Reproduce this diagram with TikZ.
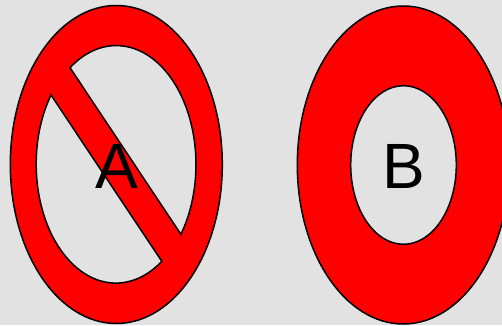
\documentclass[tikz,border=0pt]{standalone}
\usepackage{fontspec}
\setmainfont{Liberation Sans}
\definecolor{paper}{HTML}{E2E2E2}

\begin{document}
\begin{tikzpicture}[
  x=1pt, y=1pt,
  ring/.style={draw=black, fill=red, line width=1.5pt},
  hole/.style={draw=black, fill=paper, line width=1.5pt},
  letter/.style={inner sep=0pt, font=\fontsize{64}{64}\selectfont}
]
\fill[paper] (0,0) rectangle (502,325);
\useasboundingbox (0,0) rectangle (502,325);
% crossed-out ring
\draw[ring] (116.3,160.5) ellipse [x radius=106, y radius=159];
\draw[hole] (70,257.3) arc[start angle=125.5, end angle=-35.85, x radius=79.7, y radius=119] -- cycle;
\draw[hole] (51,230) arc[start angle=144.5, end angle=305.2, x radius=79.7, y radius=119] -- cycle;
\node[letter] (labela) at (116.5,158.7) {A};
% plain ring
\draw[ring] (403.3,160) ellipse [x radius=106, y radius=159];
\draw[hole] (403.5,160) ellipse [x radius=52.8, y radius=79.3];
\node[letter] (labelb) at (404.3,159) {B};
\end{tikzpicture}
\end{document}
